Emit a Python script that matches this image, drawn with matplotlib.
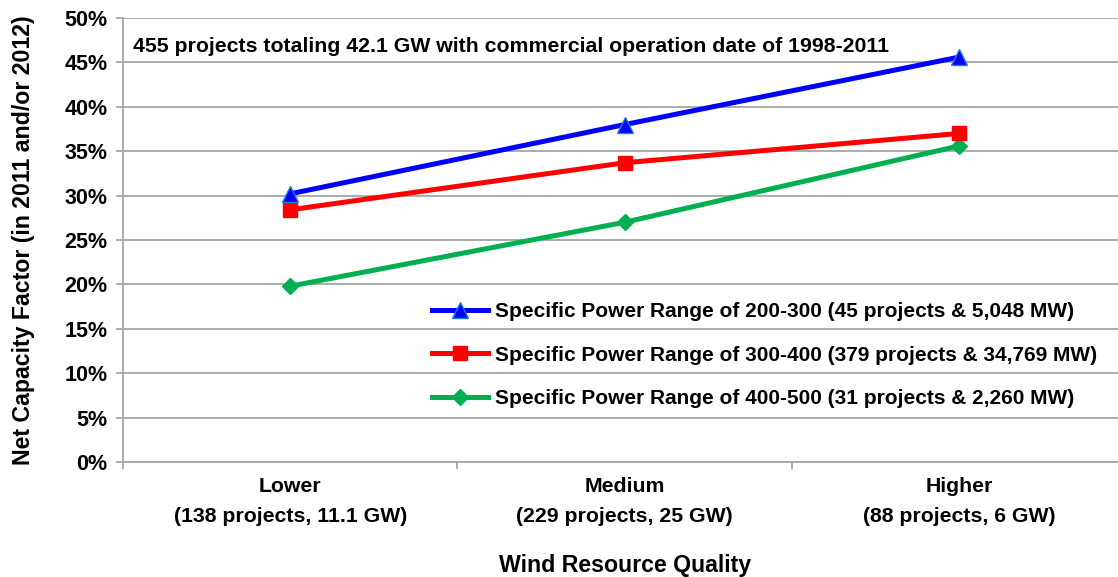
import numpy as np
import matplotlib.pyplot as plt

plt.rcParams['font.family'] = ['Liberation Sans', 'DejaVu Sans']
plt.rcParams['font.weight'] = 'bold'

categories = ["Lower\n(138 projects, 11.1 GW)",
              "Medium\n(229 projects, 25 GW)",
              "Higher\n(88 projects, 6 GW)"]
cf_200_300 = [30.2, 38.0, 45.6]
cf_300_400 = [28.4, 33.7, 37.0]
cf_400_500 = [19.8, 27.0, 35.6]
labels = ["Specific Power Range of 200-300 (45 projects & 5,048 MW)",
          "Specific Power Range of 300-400 (379 projects & 34,769 MW)",
          "Specific Power Range of 400-500 (31 projects & 2,260 MW)"]
note = "455 projects totaling 42.1 GW with commercial operation date of 1998-2011"

fig = plt.figure(figsize=(11.18, 5.77), dpi=100)
ax = fig.add_axes([0.110, 0.1993, 0.8976, 0.7695])

x = np.arange(len(categories))
gray = "#a6a6a6"

ax.plot(x, cf_200_300, "-^", color="#0000ff", linewidth=3.6, markersize=12,
        markerfacecolor="#0000ff", markeredgecolor="#1f7fd0", markeredgewidth=1, label=labels[0], zorder=5)
ax.plot(x, cf_300_400, "-s", color="#ff0000", linewidth=3.6, markersize=10,
        markeredgecolor="#ff0000", label=labels[1], zorder=4)
ax.plot(x, cf_400_500, "-D", color="#00b050", linewidth=3.6, markersize=8,
        markeredgecolor="#00b050", label=labels[2], zorder=3)

ax.set_xlim(-0.5, 2.5)
ax.set_ylim(0, 50)
ax.set_yticks(np.arange(0, 51, 5))
ax.set_yticklabels([f"{v}%" for v in range(0, 51, 5)], fontsize=15.5, fontweight='bold')
ax.set_xticks(x)
ax.set_xticklabels(categories, fontsize=15.3, fontweight='bold', linespacing=1.7)
ax.set_xticks([-0.5, 0.5, 1.5], minor=True)
ax.tick_params(axis='x', which='major', length=0, pad=11)
ax.tick_params(axis='x', which='minor', length=5, color=gray, width=1.3)
ax.tick_params(axis='y', length=5, color=gray, width=1.3, pad=6)

ax.grid(axis='y', color=gray, linewidth=1.3)
ax.set_axisbelow(True)
for s in ['top', 'right']:
    ax.spines[s].set_visible(False)
for s in ['left', 'bottom']:
    ax.spines[s].set_color(gray)
    ax.spines[s].set_linewidth(1.3)

ax.set_ylabel("Net Capacity Factor (in 2011 and/or 2012)", fontsize=16.7, fontweight='bold', labelpad=21)
ax.set_xlabel("Wind Resource Quality", fontsize=16.7, fontweight='bold', labelpad=20)

ax.text(0.01, 0.935, note, transform=ax.transAxes, fontsize=15.3, fontweight='bold',
        va='center', ha='left')

leg = ax.legend(loc='upper left', bbox_to_anchor=(0.300, 0.379), frameon=False,
                prop={'size': 15, 'weight': 'bold'}, handlelength=2.65, labelspacing=1.18,
                handletextpad=0.35, borderaxespad=0)

fig.savefig("out.png", dpi=100)
